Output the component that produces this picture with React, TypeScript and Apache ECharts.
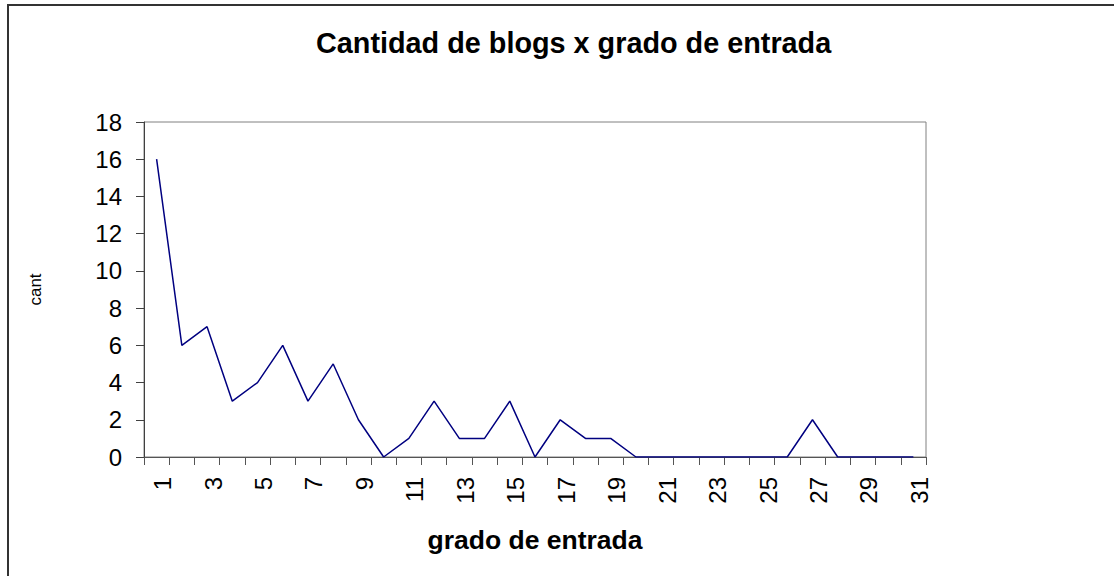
import React, { useEffect, useRef } from "react";
import * as echarts from "echarts";

const categories: string[] = Array.from({ length: 31 }, (_, i) => String(i + 1));
const counts: number[] = [16, 6, 7, 3, 4, 6, 3, 5, 2, 0, 1, 3, 1, 1, 3, 0, 2, 1, 1, 0, 0, 0, 0, 0, 0, 0, 2, 0, 0, 0, 0];
const titleText = "Cantidad de blogs x grado de entrada";
const xName = "grado de entrada";
const yName = "cant";

const FONT = "'Liberation Sans', Arial, sans-serif";

export default function App() {
  const ref = useRef<HTMLDivElement>(null);
  useEffect(() => {
    if (!ref.current) return;
    const chart = echarts.init(ref.current, undefined, { renderer: "svg" });
    chart.setOption({
      animation: false,
      backgroundColor: "#ffffff",
      textStyle: { fontFamily: FONT },
      title: {
        text: titleText,
        left: 316,
        top: 28,
        padding: 0,
        textStyle: { fontFamily: FONT, fontSize: 28.8, fontWeight: "bold", color: "#000" },
      },
      graphic: [
        {
          type: "rect",
          shape: { x: 8, y: 5, width: 1200, height: 700 },
          style: { fill: "none", stroke: "#333333", lineWidth: 2 },
          z: 100,
        },
      ],
      grid: {
        left: 144,
        right: 188,
        top: 122,
        bottom: 119,
        show: true,
        borderColor: "#808080",
        borderWidth: 1,
        backgroundColor: "transparent",
      },
      xAxis: {
        type: "category",
        data: categories,
        boundaryGap: true,
        name: xName,
        nameLocation: "middle",
        nameGap: 69,
        nameTextStyle: { fontFamily: FONT, fontSize: 26.5, fontWeight: "bold", color: "#000" },
        axisLine: { show: true, lineStyle: { color: "#555555", width: 1 } },
        axisTick: { show: true, interval: 0, length: 8, lineStyle: { color: "#555555" } },
        axisLabel: {
          interval: 1,
          rotate: 90,
          margin: 20,
          fontFamily: FONT,
          fontSize: 24,
          color: "#000",
          verticalAlign: "top",
          lineHeight: 12,
        },
        splitLine: { show: false },
      },
      yAxis: {
        type: "value",
        min: 0,
        max: 18,
        interval: 2,
        name: yName,
        nameLocation: "middle",
        nameRotate: 90,
        nameGap: 100,
        nameTextStyle: { fontFamily: FONT, fontSize: 17, color: "#000" },
        axisLine: { show: true, lineStyle: { color: "#404040", width: 1 } },
        axisTick: { show: true, length: 8, lineStyle: { color: "#404040" } },
        axisLabel: { margin: 22, fontFamily: FONT, fontSize: 24, color: "#000" },
        splitLine: { show: false },
      },
      series: [
        {
          type: "line",
          data: counts,
          symbol: "none",
          lineStyle: { color: "#000080", width: 1.5 },
          itemStyle: { color: "#000080" },
        },
      ],
    });
    return () => chart.dispose();
  }, []);
  return (
    <div
      ref={ref}
      style={{ position: "absolute", left: 0, top: 0, width: 1114, height: 576 }}
    />
  );
}
